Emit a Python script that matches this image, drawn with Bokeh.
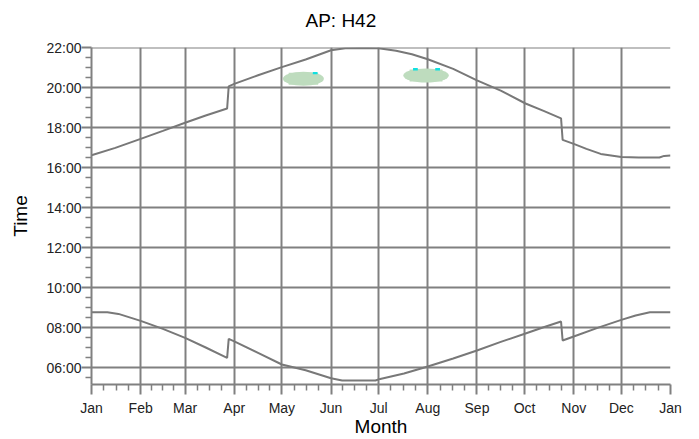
from bokeh.plotting import figure
from bokeh.models import Range1d, FixedTicker, Title
from bokeh.embed import file_html
from bokeh.resources import INLINE

# ---- data ----
title_text = "AP: H42"
months = ["Jan", "Feb", "Mar", "Apr", "May", "Jun", "Jul", "Aug", "Sep", "Oct", "Nov", "Dec", "Jan"]
month_start = [0, 31, 59, 90, 120, 151, 181, 212, 243, 273, 304, 334, 365]
hour_ticks = [6, 8, 10, 12, 14, 16, 18, 20, 22]
hour_labels = ["06:00", "08:00", "10:00", "12:00", "14:00", "16:00", "18:00", "20:00", "22:00"]

sunset_day = [0, 15, 31, 45, 59, 72, 85.5, 86.5, 90, 105, 120, 135, 151, 160, 172, 181,
              192, 202, 212, 228, 243, 258, 273.6, 285, 296, 297, 304, 312, 321, 334,
              345, 358, 361, 365]
sunset_hour = [16.63, 17.0, 17.45, 17.85, 18.26, 18.62, 18.97, 20.08, 20.2, 20.63, 21.04,
               21.42, 21.88, 21.98, 22.0, 21.98, 21.86, 21.68, 21.43, 20.95, 20.38, 19.86,
               19.22, 18.85, 18.48, 17.40, 17.2, 16.95, 16.70, 16.54, 16.52, 16.52, 16.6, 16.62]

sunrise_day = [0, 10, 17, 31, 45, 59, 72, 85.5, 86.5, 90, 105, 120, 135, 151, 158, 179,
               182, 197, 212, 228, 243, 258, 273.6, 285, 296, 297, 304, 319, 334, 343, 352, 365]
sunrise_hour = [8.78, 8.78, 8.70, 8.35, 7.95, 7.5, 7.02, 6.5, 7.45, 7.33, 6.75, 6.17, 5.88,
                5.48, 5.37, 5.37, 5.45, 5.72, 6.07, 6.47, 6.87, 7.3, 7.72, 8.03, 8.32, 7.37,
                7.57, 8.0, 8.4, 8.62, 8.78, 8.78]

blob_day = [133.6, 210.9]
blob_hour = [20.46, 20.62]
blob_w = [25.8, 28.7]
blob_h = [0.70, 0.70]
mark_day = [141, 204.2, 218.2]
mark_hour = [20.74, 20.93, 20.93]

# ---- derived tick positions ----
x_minor = [month_start[i] + k * (month_start[i + 1] - month_start[i]) / 4
           for i in range(12) for k in (1, 2, 3)]
y_minor = [v * 0.5 for v in range(11, 44) if (v * 0.5) not in hour_ticks]

GRAY = "#808080"
FONT = "Liberation Sans"

p = figure(width=699, height=439, x_range=Range1d(0, 365), y_range=Range1d(5.17, 22.02),
           output_backend="svg", toolbar_location=None,
           min_border_left=91, min_border_right=29, min_border_top=47, min_border_bottom=53)
p.outline_line_color = None
p.background_fill_color = "white"
p.border_fill_color = "white"

# title: an invisible spacer next to the frame, then the visible title above it
p.add_layout(Title(text=" ", text_font=FONT, text_font_size="10px", standoff=2), "above")
p.add_layout(Title(text=title_text, align="left", offset=214, vertical_align="top",
                   standoff=0, text_font=FONT, text_font_size="19px",
                   text_font_style="normal", text_color="black"), "above")

# grids
p.xgrid.ticker = FixedTicker(ticks=month_start[1:-1])
p.ygrid.ticker = FixedTicker(ticks=hour_ticks)
for g in (p.xgrid, p.ygrid):
    g.grid_line_color = GRAY
    g.grid_line_width = 2

# axes
p.xaxis.ticker = FixedTicker(ticks=month_start, minor_ticks=x_minor)
p.xaxis.major_label_overrides = {m: lab for m, lab in zip(month_start[:-1], months[:-1])}
p.xaxis.major_label_overrides[365] = "Jan"
p.yaxis.ticker = FixedTicker(ticks=hour_ticks, minor_ticks=y_minor)
p.yaxis.major_label_overrides = {h: lab for h, lab in zip(hour_ticks, hour_labels)}
p.xaxis.axis_label = "Month"
p.yaxis.axis_label = "Time"

for ax in (p.xaxis[0], p.yaxis[0]):
    ax.axis_line_color = GRAY
    ax.axis_line_width = 2
    ax.major_tick_line_color = GRAY
    ax.major_tick_line_width = 2
    ax.minor_tick_line_color = GRAY
    ax.minor_tick_line_width = 1.5
    ax.major_tick_in = 0
    ax.major_tick_out = 10
    ax.minor_tick_in = 0
    ax.minor_tick_out = 6
    ax.major_label_text_font = FONT
    ax.major_label_text_font_size = "14px"
    ax.major_label_text_color = "#222222"
    ax.axis_label_text_font = FONT
    ax.axis_label_text_font_size = "19px"
    ax.axis_label_text_font_style = "normal"
    ax.axis_label_text_color = "black"

p.xaxis.major_label_standoff = 5
p.xaxis.axis_label_standoff = -3
p.yaxis.major_label_standoff = 0
p.yaxis.axis_label_standoff = 12

# blobs (rounded patches: ellipse ends plus a flat middle)
BLOB = "#bedcbe"
p.ellipse(x=blob_day, y=blob_hour, width=blob_w, height=blob_h,
          fill_color=BLOB, line_color=None)
p.rect(x=blob_day, y=blob_hour, width=[w * 0.72 for w in blob_w],
       height=[h * 0.86 for h in blob_h], fill_color=BLOB, line_color=None)
p.rect(x=mark_day, y=mark_hour, width=3, height=0.12, fill_color="#10e0e0", line_color=None)

# curves
p.line(sunset_day, sunset_hour, line_color="#787878", line_width=2)
p.line(sunrise_day, sunrise_hour, line_color="#787878", line_width=2)

open("out.html", "w").write(file_html(p, INLINE))
